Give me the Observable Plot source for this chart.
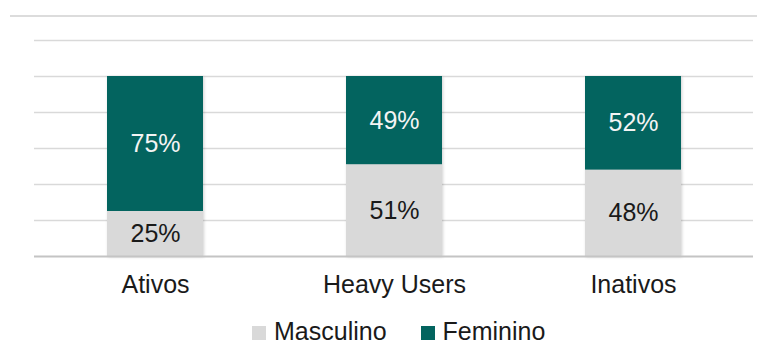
<!DOCTYPE html>
<html>
<head>
<meta charset="utf-8">
<script src="https://cdn.jsdelivr.net/npm/d3@7"></script>
<script src="https://cdn.jsdelivr.net/npm/@observablehq/plot@0.6"></script>
<style>
  html, body { margin: 0; padding: 0; background: #fff; }
  body { width: 762px; height: 347px; position: relative; overflow: hidden; font-family: "Liberation Sans", Arial, sans-serif; }
  #frame { position: absolute; left: 10px; top: 15px; width: 747px; height: 1.5px; background: #dcdcdc; }
  #chart { position: absolute; left: 0; top: 0; }
  #legend { position: absolute; left: 252px; top: 321px; display: flex; align-items: flex-end; font-size: 25px; line-height: 20px; color: #1a1a1a; }
  .item { display: flex; align-items: flex-end; }
  .item + .item { margin-left: 34px; }
  .sw { width: 14px; height: 14px; margin-right: 8px; margin-bottom: 1px; }
</style>
</head>
<body>
<div id="frame"></div>
<div id="chart"></div>
<div id="legend"></div>
<script>
const categories = ["Ativos", "Heavy Users", "Inativos"];
const series = ["Masculino", "Feminino"];
const masculino = [0.25, 0.51, 0.48];
const feminino = [0.75, 0.49, 0.52];
const seriesColors = ["#d9d9d9", "#03645f"];
const labelColors = ["#1a1a1a", "#f4f4f4"];
const gridTicks = [0.2, 0.4, 0.6, 0.8, 1.0, 1.2];

const rows = [];
categories.forEach((c, i) => {
  const vals = [masculino[i], feminino[i]];
  let acc = 0;
  vals.forEach((v, j) => {
    rows.push({cat: c, sex: series[j], value: v, y1: acc, y2: acc + v, mid: acc + v / 2});
    acc += v;
  });
});

const chart = Plot.plot({
  width: 762,
  height: 300,
  marginTop: 40,
  marginBottom: 44,
  marginLeft: 34,
  marginRight: 9,
  style: {fontFamily: "Liberation Sans, Arial, sans-serif", background: "transparent"},
  x: {domain: categories, paddingInner: 0.6, paddingOuter: 0.3, label: null},
  y: {domain: [0, 1.2], axis: null},
  color: {domain: series, range: seriesColors},
  marks: [
    Plot.ruleY(gridTicks, {stroke: "#d9d9d9", strokeWidth: 1.3}),
    Plot.barY(rows, {x: "cat", y1: "y1", y2: "y2", fill: "sex"}),
    Plot.ruleY([0], {stroke: "#c4c4c4", strokeWidth: 2}),
    Plot.text(rows, {x: "cat", y: "mid", text: d => Math.round(d.value * 100) + "%",
      fill: d => labelColors[series.indexOf(d.sex)], fontSize: 25}),
    Plot.axisX({tickSize: 0, tickPadding: 19, fontSize: 25, fill: "#1a1a1a", label: null})
  ]
});
document.getElementById("chart").appendChild(chart);
chart.querySelectorAll('g[aria-label="bar"]').forEach(g => g.style.filter = "drop-shadow(1px 1px 1.5px rgba(0,0,0,0.18))");

const legend = document.getElementById("legend");
series.forEach((s, j) => {
  const item = document.createElement("div");
  item.className = "item";
  const sw = document.createElement("div");
  sw.className = "sw";
  sw.style.background = seriesColors[j];
  const t = document.createElement("span");
  t.textContent = s;
  item.appendChild(sw);
  item.appendChild(t);
  legend.appendChild(item);
});
</script>
</body>
</html>
